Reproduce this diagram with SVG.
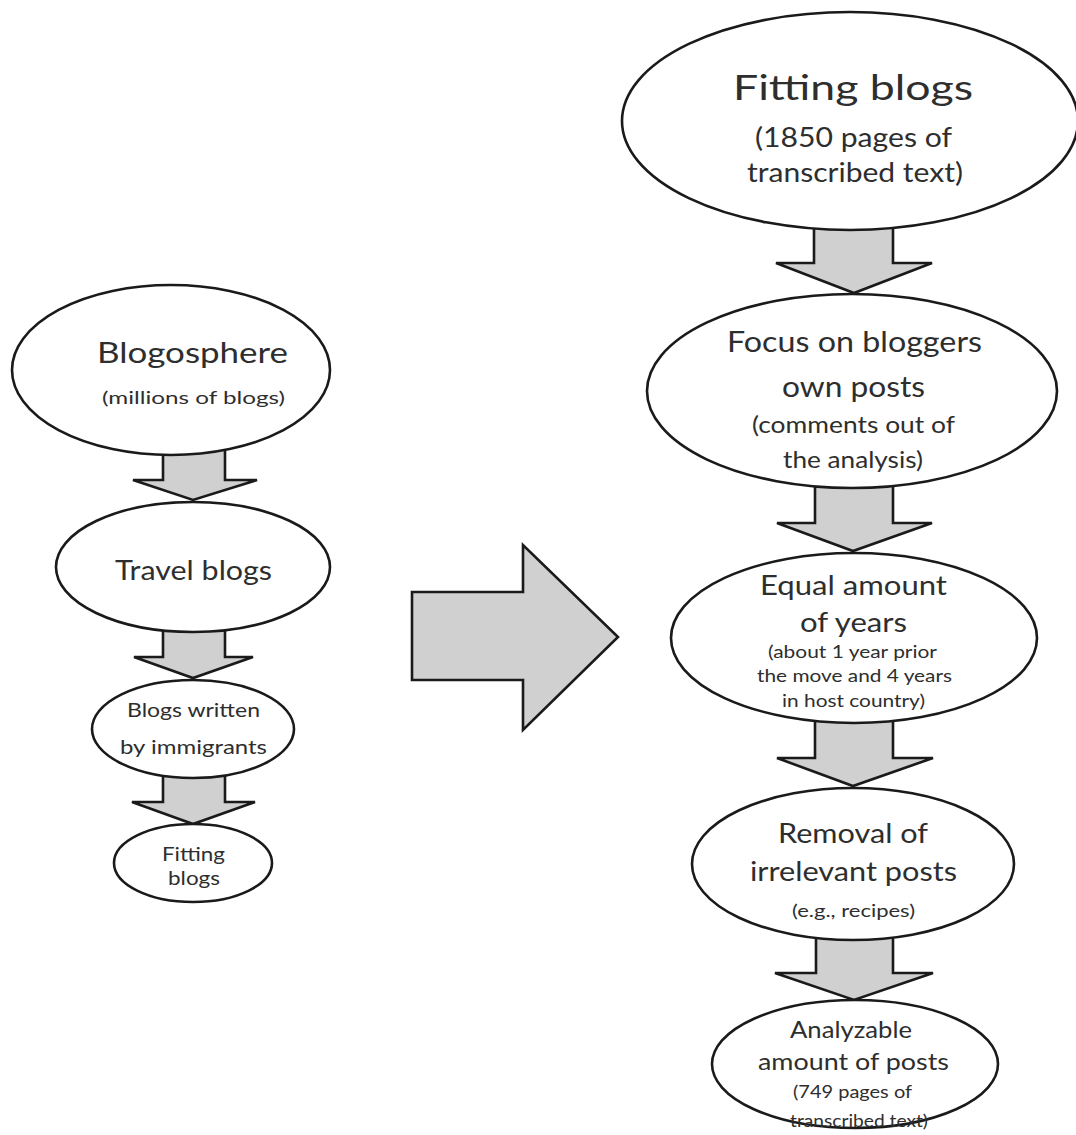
<svg xmlns="http://www.w3.org/2000/svg" width="1076" height="1135" viewBox="0 0 1076 1135">
<style>
.node ellipse{fill:#ffffff;stroke:#1a1a1a;stroke-width:2.6}
.conn polygon{fill:#d0d0d0;stroke:#1a1a1a;stroke-width:2.6;stroke-linejoin:miter}
text{font-family:Lato,"Open Sans","Liberation Sans",sans-serif;fill:#2e2e2e;text-anchor:middle}
</style>
<rect width="1076" height="1135" fill="#ffffff"/>
<g id="connectors" class="conn">
<polygon points="163,440 225,440 225,480 257,480 193,500 133,480 163,480"/>
<polygon points="163,620 225,620 225,657 253,657 193,678 134,657 163,657"/>
<polygon points="163,765 225,765 225,802 255,802 193,824 132,802 163,802"/>
<polygon points="412,592 523,592 523,545 618,637 523,730 523,680 412,680"/>
<polygon points="814,215 893,215 893,263 932,263 854,293 776,263 814,263"/>
<polygon points="815,475 893,475 893,523 932,523 853,551 777,523 815,523"/>
<polygon points="815,710 893,710 893,758 933,758 853,786 777,758 815,758"/>
<polygon points="816,928 893,928 893,973 933,973 854,1000 775,973 816,973"/>
</g>
<g id="n-blogosphere" class="node">
<ellipse cx="171" cy="370" rx="159" ry="85"/>
<text x="192.5" y="363" font-size="29" textLength="191" lengthAdjust="spacingAndGlyphs">Blogosphere</text>
<text x="193.5" y="404" font-size="18" textLength="183" lengthAdjust="spacingAndGlyphs">(millions of blogs)</text>
</g>
<g id="n-travel" class="node">
<ellipse cx="193" cy="567" rx="137" ry="65"/>
<text x="193.5" y="580" font-size="26" textLength="157" lengthAdjust="spacingAndGlyphs">Travel blogs</text>
</g>
<g id="n-immigrants" class="node">
<ellipse cx="193" cy="729" rx="101" ry="49"/>
<text x="193.5" y="717" font-size="20" textLength="133" lengthAdjust="spacingAndGlyphs">Blogs written</text>
<text x="193.5" y="754" font-size="20" textLength="147" lengthAdjust="spacingAndGlyphs">by immigrants</text>
</g>
<g id="n-fitting-small" class="node">
<ellipse cx="193" cy="863" rx="79" ry="39"/>
<text x="193.5" y="861" font-size="19" textLength="63" lengthAdjust="spacingAndGlyphs">Fitting</text>
<text x="194" y="885" font-size="19" textLength="52" lengthAdjust="spacingAndGlyphs">blogs</text>
</g>
<g id="n-fitting-big" class="node">
<ellipse cx="850" cy="121" rx="228" ry="109"/>
<text x="853" y="100" font-size="35" textLength="240" lengthAdjust="spacingAndGlyphs">Fitting blogs</text>
<text x="853.5" y="147" font-size="26" textLength="197" lengthAdjust="spacingAndGlyphs">(1850 pages of</text>
<text x="855" y="182" font-size="26" textLength="216" lengthAdjust="spacingAndGlyphs">transcribed text)</text>
</g>
<g id="n-focus" class="node">
<ellipse cx="852" cy="391" rx="205" ry="97"/>
<text x="854.5" y="352" font-size="28" textLength="255" lengthAdjust="spacingAndGlyphs">Focus on bloggers</text>
<text x="853.5" y="397" font-size="28" textLength="143" lengthAdjust="spacingAndGlyphs">own posts</text>
<text x="853.5" y="433" font-size="24" textLength="203" lengthAdjust="spacingAndGlyphs">(comments out of</text>
<text x="853" y="468" font-size="24" textLength="140" lengthAdjust="spacingAndGlyphs">the analysis)</text>
</g>
<g id="n-equal" class="node">
<ellipse cx="854" cy="638" rx="183" ry="85"/>
<text x="853.5" y="595" font-size="26" textLength="187" lengthAdjust="spacingAndGlyphs">Equal amount</text>
<text x="853.5" y="632" font-size="26" textLength="107" lengthAdjust="spacingAndGlyphs">of years</text>
<text x="852.5" y="658" font-size="16.5" textLength="169" lengthAdjust="spacingAndGlyphs">(about 1 year prior</text>
<text x="854.5" y="682" font-size="16.5" textLength="195" lengthAdjust="spacingAndGlyphs">the move and 4 years</text>
<text x="853.5" y="707" font-size="16.5" textLength="143" lengthAdjust="spacingAndGlyphs">in host country)</text>
</g>
<g id="n-removal" class="node">
<ellipse cx="853" cy="864" rx="161" ry="76"/>
<text x="853" y="843" font-size="26" textLength="150" lengthAdjust="spacingAndGlyphs">Removal of</text>
<text x="853.5" y="881" font-size="26" textLength="207" lengthAdjust="spacingAndGlyphs">irrelevant posts</text>
<text x="853.5" y="917" font-size="17" textLength="123" lengthAdjust="spacingAndGlyphs">(e.g., recipes)</text>
</g>
<g id="n-analyzable" class="node">
<ellipse cx="855" cy="1064" rx="143" ry="64"/>
<text x="851" y="1038" font-size="23.5" textLength="122" lengthAdjust="spacingAndGlyphs">Analyzable</text>
<text x="853.5" y="1070" font-size="23.5" textLength="191" lengthAdjust="spacingAndGlyphs">amount of posts</text>
<text x="852.5" y="1098" font-size="18" textLength="119" lengthAdjust="spacingAndGlyphs">(749 pages of</text>
<text x="859" y="1127" font-size="18" textLength="138" lengthAdjust="spacingAndGlyphs">transcribed text)</text>
</g>
</svg>
